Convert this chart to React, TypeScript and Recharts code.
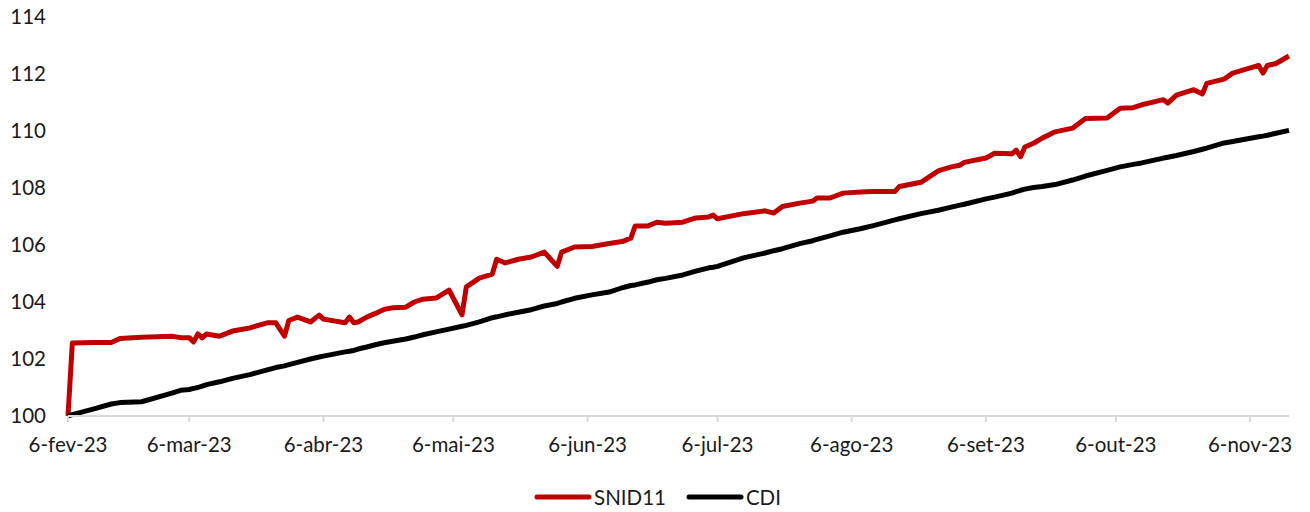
import { LineChart, Line, XAxis, YAxis, Legend } from "recharts";

const dates = [
  "2023-02-06", "2023-02-07", "2023-02-12", "2023-02-16", "2023-02-18", "2023-02-23",
  "2023-03-02", "2023-03-04", "2023-03-06", "2023-03-07", "2023-03-08", "2023-03-09",
  "2023-03-10", "2023-03-13", "2023-03-16", "2023-03-20", "2023-03-24", "2023-03-26",
  "2023-03-28", "2023-03-29", "2023-03-31", "2023-04-03", "2023-04-05", "2023-04-06",
  "2023-04-11", "2023-04-12", "2023-04-13", "2023-04-14", "2023-04-16", "2023-04-18",
  "2023-04-20", "2023-04-22", "2023-04-25", "2023-04-27", "2023-04-29", "2023-05-02",
  "2023-05-05", "2023-05-08", "2023-05-09", "2023-05-12", "2023-05-15", "2023-05-16",
  "2023-05-18", "2023-05-21", "2023-05-24", "2023-05-27", "2023-05-30", "2023-05-31",
  "2023-06-03", "2023-06-07", "2023-06-11", "2023-06-14", "2023-06-16", "2023-06-17",
  "2023-06-20", "2023-06-22", "2023-06-24", "2023-06-28", "2023-07-01", "2023-07-04",
  "2023-07-05", "2023-07-06", "2023-07-12", "2023-07-17", "2023-07-19", "2023-07-21",
  "2023-07-25", "2023-07-28", "2023-07-29", "2023-08-01", "2023-08-04", "2023-08-08",
  "2023-08-11", "2023-08-16", "2023-08-17", "2023-08-22", "2023-08-26", "2023-08-29",
  "2023-08-31", "2023-09-01", "2023-09-06", "2023-09-08", "2023-09-12", "2023-09-13",
  "2023-09-14", "2023-09-15", "2023-09-17", "2023-09-19", "2023-09-22", "2023-09-26",
  "2023-09-29", "2023-10-04", "2023-10-07", "2023-10-10", "2023-10-12", "2023-10-17",
  "2023-10-18", "2023-10-20", "2023-10-24", "2023-10-26", "2023-10-27", "2023-10-31",
  "2023-11-02", "2023-11-08", "2023-11-09", "2023-11-10", "2023-11-12", "2023-11-15",
];

const snid11 = [
  100, 102.56, 102.58, 102.58, 102.72, 102.76,
  102.8, 102.75, 102.75, 102.6, 102.88, 102.74,
  102.88, 102.8, 102.98, 103.09, 103.27, 103.27,
  102.8, 103.35, 103.47, 103.3, 103.54, 103.4,
  103.27, 103.47, 103.27, 103.3, 103.47, 103.6,
  103.74, 103.8, 103.82, 104.0, 104.1, 104.14,
  104.42, 103.55, 104.53, 104.84, 104.98, 105.5,
  105.37, 105.5, 105.58, 105.75, 105.25, 105.75,
  105.93, 105.95, 106.05, 106.12, 106.24, 106.67,
  106.67, 106.8, 106.76, 106.8, 106.95, 106.98,
  107.05, 106.92, 107.1, 107.2, 107.12, 107.35,
  107.47, 107.54, 107.65, 107.65, 107.82, 107.86,
  107.88, 107.88, 108.05, 108.2, 108.6, 108.74,
  108.8, 108.9, 109.05, 109.22, 109.2, 109.33,
  109.1, 109.44, 109.57, 109.75, 109.97, 110.1,
  110.44, 110.46, 110.8, 110.82, 110.92, 111.1,
  110.98, 111.26, 111.45, 111.3, 111.67, 111.82,
  112.03, 112.3, 112.03, 112.3, 112.37, 112.63,
];

const cdi = [
  100, 100.05, 100.25, 100.42, 100.47, 100.5,
  100.8, 100.9, 100.93, 100.97, 101.0, 101.05,
  101.1, 101.2, 101.32, 101.45, 101.62, 101.7,
  101.76, 101.8, 101.88, 102.0, 102.07, 102.1,
  102.25, 102.27, 102.3, 102.35, 102.42, 102.5,
  102.57, 102.62, 102.7, 102.77, 102.85, 102.95,
  103.05, 103.15, 103.18, 103.3, 103.45, 103.48,
  103.55, 103.64, 103.73, 103.86, 103.95, 104.0,
  104.13, 104.25, 104.35, 104.5, 104.58, 104.6,
  104.7, 104.78, 104.83, 104.95, 105.08, 105.2,
  105.22, 105.25, 105.55, 105.72, 105.8, 105.87,
  106.05, 106.15, 106.2, 106.32, 106.45, 106.57,
  106.68, 106.88, 106.92, 107.1, 107.22, 107.33,
  107.4, 107.43, 107.62, 107.68, 107.82, 107.87,
  107.92, 107.96, 108.02, 108.05, 108.12, 108.28,
  108.42, 108.62, 108.74, 108.83, 108.88, 109.05,
  109.08, 109.14, 109.28, 109.36, 109.4, 109.58,
  109.63, 109.8, 109.82, 109.85, 109.92, 110.02,
];

const tickDates = [
  "2023-02-06", "2023-03-06", "2023-04-06", "2023-05-06", "2023-06-06",
  "2023-07-06", "2023-08-06", "2023-09-06", "2023-10-06", "2023-11-06",
];

const monthNames = ["jan", "fev", "mar", "abr", "mai", "jun", "jul", "ago", "set", "out", "nov", "dez"];

const yTicks = [100, 102, 104, 106, 108, 110, 112, 114];

const toTs = (s: string) => Date.parse(s + "T00:00:00Z");

const data = dates.map((d, i) => ({ t: toTs(d), snid11: snid11[i], cdi: cdi[i] }));

const FONT = "Lato, 'Open Sans', sans-serif";
const FS = 20.5;

function formatTick(ts: number) {
  const d = new Date(ts);
  return `${d.getUTCDate()}-${monthNames[d.getUTCMonth()]}-${String(d.getUTCFullYear()).slice(2)}`;
}

function LegendContent() {
  const items = [
    { name: "SNID11", color: "#C00000" },
    { name: "CDI", color: "#000000" },
  ];
  return (
    <div style={{ display: "flex", justifyContent: "center", alignItems: "center", height: 30, paddingLeft: 26, fontFamily: FONT, fontSize: FS, color: "#1a1a1a" }}>
      {items.map((it, i) => (
        <div key={it.name} style={{ display: "flex", alignItems: "center", marginLeft: i ? 20 : 0 }}>
          <svg width={58} height={10}>
            <line x1={3} y1={5} x2={55} y2={5} stroke={it.color} strokeWidth={5} strokeLinecap="round" />
          </svg>
          <span style={{ marginLeft: 2 }}>{it.name}</span>
        </div>
      ))}
    </div>
  );
}

export default function App() {
  return (
    <div style={{ position: "absolute", left: 0, top: 0, width: 1310, height: 512, background: "#fff" }}>
      <LineChart width={1310} height={512} data={data} margin={{ top: 17, right: 21, bottom: 0, left: 0 }}>
        <XAxis
          dataKey="t"
          type="number"
          scale="time"
          domain={[toTs("2023-02-06"), toTs("2023-11-15")]}
          ticks={tickDates.map(toTs)}
          interval={0}
          tickFormatter={formatTick}
          height={66}
          axisLine={{ stroke: "#d9d9d9", strokeWidth: 2 }}
          tickLine={{ stroke: "#d9d9d9", strokeWidth: 2 }}
          tickSize={6}
          tickMargin={15}
          tick={{ fill: "#1a1a1a", fontSize: FS, fontFamily: FONT }}
        />
        <YAxis
          domain={[100, 114]}
          ticks={yTicks}
          interval={0}
          width={68}
          axisLine={false}
          tickLine={false}
          tickMargin={16}
          tick={{ fill: "#1a1a1a", fontSize: FS, fontFamily: FONT }}
        />
        <Legend verticalAlign="bottom" content={<LegendContent />} />
        <Line type="linear" dataKey="snid11" name="SNID11" stroke="#C00000" strokeWidth={5} dot={false} isAnimationActive={false} strokeLinejoin="round" />
        <Line type="linear" dataKey="cdi" name="CDI" stroke="#000000" strokeWidth={5} dot={false} isAnimationActive={false} strokeLinejoin="round" />
      </LineChart>
    </div>
  );
}
